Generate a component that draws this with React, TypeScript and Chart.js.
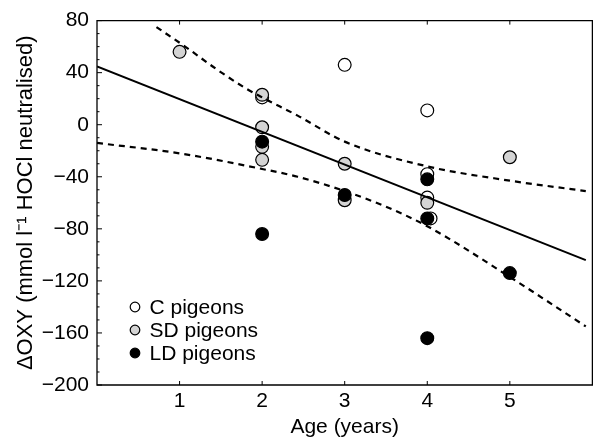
import React, { useEffect, useRef } from "react";
import { Chart, registerables } from "chart.js";

Chart.register(...registerables);

// ---- axis settings ----
const xTickValues = [1, 2, 3, 4, 5];
const xMin = 0;
const xMax = 6;
const yMin = -200;
const yMax = 80;
const yStep = 40;
const yMinorStep = 10;

// ---- points (age in years, ΔOXY) ----
const cAge = [2, 3, 4, 4, 4, 4.04];
const cOxy = [21, 46, 11, -38, -56, -72];
const sdAge = [1, 2, 2, 2, 2, 3, 3, 4, 5];
const sdOxy = [56, 23, -2, -17, -27, -30, -58, -60, -25];
const ldAge = [2, 2, 3, 4, 4, 4, 5];
const ldOxy = [-13, -84, -54, -42, -72, -164, -114];

// ---- regression line and confidence band ----
const fitAge = [0, 5.92];
const fitOxy = [44.7, -104];
const upperAge = [0.72, 1.08, 1.44, 1.79, 2, 2.43, 3, 4, 5, 5.92];
const upperOxy = [75, 59.5, 43, 28.4, 21, 7, -13, -32, -43, -51];
const lowerAge = [0, 1, 2, 2.43, 3, 3.5, 4, 5, 5.92];
const lowerOxy = [-14, -22, -34, -40, -51, -63, -78, -117, -155];

const labels = ["C pigeons", "SD pigeons", "LD pigeons"];
const FONT = "'Liberation Sans', Arial, Helvetica, sans-serif";

const pts = (xs: number[], ys: number[]) => xs.map((x, i) => ({ x, y: ys[i] }));

const framePlugin = {
  id: "frame",
  afterDatasetsDraw(chart: any) {
    const { ctx, chartArea: a, scales } = chart;
    ctx.save();
    ctx.strokeStyle = "#000";
    ctx.lineWidth = 1.3;
    ctx.beginPath();
    ctx.moveTo(a.left, a.top);
    ctx.lineTo(a.right, a.top);
    ctx.lineTo(a.right, a.bottom);
    ctx.lineTo(a.left, a.bottom);
    ctx.closePath();
    ctx.stroke();
    ctx.lineWidth = 1;
    ctx.beginPath();
    for (const v of xTickValues) {
      const px = scales.x.getPixelForValue(v);
      ctx.moveTo(px, a.bottom);
      ctx.lineTo(px, a.bottom - 4);
      ctx.moveTo(px, a.top);
      ctx.lineTo(px, a.top + 4);
    }
    for (let v = yMin; v <= yMax; v += yMinorStep) {
      const py = scales.y.getPixelForValue(v);
      const len = (v - yMin) % yStep === 0 ? 5 : 2.5;
      ctx.moveTo(a.left, py);
      ctx.lineTo(a.left + len, py);
    }
    ctx.stroke();
    ctx.restore();
  },
};

const legendPlugin = {
  id: "innerLegend",
  afterDraw(chart: any) {
    const { ctx, chartArea: a } = chart;
    const fills = ["#ffffff", "#d4d4d4", "#000000"];
    ctx.save();
    ctx.font = `21px ${FONT}`;
    ctx.textBaseline = "middle";
    ctx.fillStyle = "#000";
    labels.forEach((lab, i) => {
      const cx = a.left + 38;
      const cy = a.bottom - 78 + i * 23;
      ctx.beginPath();
      ctx.arc(cx, cy, 4.8, 0, Math.PI * 2);
      ctx.fillStyle = fills[i];
      ctx.fill();
      ctx.lineWidth = 1.2;
      ctx.strokeStyle = "#000";
      ctx.stroke();
      ctx.fillStyle = "#000";
      ctx.fillText(lab, cx + 14.5, cy + 1);
    });
    ctx.restore();
  },
};

export default function App() {
  const ref = useRef<HTMLCanvasElement | null>(null);

  useEffect(() => {
    if (!ref.current) return;
    const pointBase = { pointRadius: 6.4, pointHoverRadius: 6.4, pointBorderWidth: 1.2, showLine: false, borderColor: "#000", pointBorderColor: "#000" };
    const chart = new Chart(ref.current, {
      type: "scatter",
      data: {
        datasets: [
          { label: labels[0], data: pts(cAge, cOxy), pointBackgroundColor: "#ffffff", backgroundColor: "#ffffff", order: 3, ...pointBase },
          { label: labels[1], data: pts(sdAge, sdOxy), pointBackgroundColor: "#d4d4d4", backgroundColor: "#d4d4d4", order: 2, ...pointBase },
          { label: labels[2], data: pts(ldAge, ldOxy), pointBackgroundColor: "#000000", backgroundColor: "#000000", order: 1, ...pointBase },
          { label: "fit", data: pts(fitAge, fitOxy), showLine: true, pointRadius: 0, borderColor: "#000", borderWidth: 2, order: 0 },
          { label: "upper", data: pts(upperAge, upperOxy), showLine: true, pointRadius: 0, borderColor: "#000", borderWidth: 2.2, borderDash: [6, 5], cubicInterpolationMode: "monotone", order: 0 },
          { label: "lower", data: pts(lowerAge, lowerOxy), showLine: true, pointRadius: 0, borderColor: "#000", borderWidth: 2.2, borderDash: [6, 5], cubicInterpolationMode: "monotone", order: 0 },
        ] as any,
      },
      options: {
        animation: false,
        responsive: false,
        devicePixelRatio: 1,
        layout: { padding: { top: 20, right: 0, left: 0, bottom: 0 } },
        plugins: { legend: { display: false }, tooltip: { enabled: false } },
        scales: {
          x: {
            type: "linear",
            min: xMin,
            max: xMax,
            grid: { display: false, drawTicks: false },
            border: { display: false },
            ticks: {
              stepSize: 1,
              color: "#000",
              font: { family: FONT, size: 21 },
              padding: 4,
              maxRotation: 0,
              callback: (v: any) => (xTickValues.includes(Number(v)) ? String(v) : ""),
            },
            title: { display: true, text: "Age (years)", color: "#000", font: { family: FONT, size: 21, lineHeight: 1 }, padding: { top: 0, bottom: 0 } },
            afterFit: (s: any) => { s.height = 53; },
          },
          y: {
            min: yMin,
            max: yMax,
            grid: { display: false, drawTicks: false },
            border: { display: false },
            ticks: {
              stepSize: yStep,
              color: "#000",
              font: { family: FONT, size: 21 },
              padding: 8,
              callback: (v: any) => String(v).replace("-", "\u2212"),
            },
            title: { display: true, text: "\u0394OXY (mmol l\u207B\u00B9 HOCl neutralised)", color: "#000", font: { family: FONT, size: 22, lineHeight: 1 }, padding: { top: 15, bottom: 0 } },
            afterFit: (s: any) => { s.width = 97; },
          },
        },
      } as any,
      plugins: [framePlugin, legendPlugin],
    });
    return () => chart.destroy();
  }, []);

  return (
    <div style={{ position: "absolute", left: 0, top: 0, width: 593, height: 438, overflow: "hidden", background: "#fff" }}>
      <canvas ref={ref} width={600} height={438} style={{ display: "block" }} />
    </div>
  );
}
